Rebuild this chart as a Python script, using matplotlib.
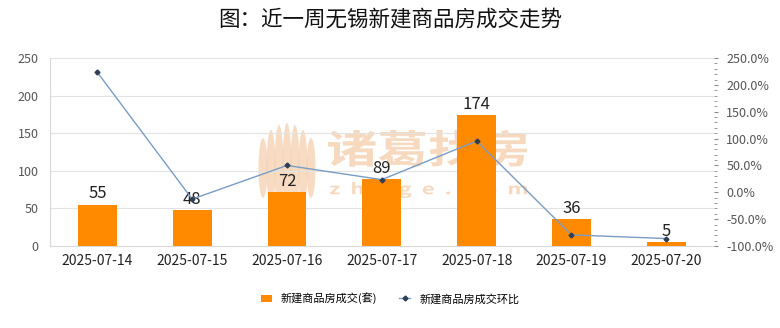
import numpy as np
import matplotlib.pyplot as plt
from matplotlib.patches import Ellipse, PathPatch
from matplotlib.textpath import TextPath
from matplotlib.font_manager import FontProperties
from matplotlib.transforms import Affine2D, IdentityTransform
from matplotlib.ticker import MultipleLocator, FuncFormatter

plt.rcParams['font.family'] = ['Noto Sans CJK SC', 'DejaVu Sans']

dates = ['2025-07-14', '2025-07-15', '2025-07-16', '2025-07-17',
         '2025-07-18', '2025-07-19', '2025-07-20']
deals = [55, 48, 72, 89, 174, 36, 5]
mom = [223.5, -12.7, 50.0, 23.6, 95.5, -79.3, -86.1]  # 环比, %

x = np.arange(len(dates))

fig = plt.figure(figsize=(7.8, 3.28), dpi=100)
ax = fig.add_axes([0.064, 0.25, 0.851, 0.573])
ax2 = ax.twinx()

bars = ax.bar(x, deals, width=0.41, color='#FF8A00', zorder=3,
              label='新建商品房成交(套)')
for xi, v in zip(x, deals):
    ax.text(xi, v + 3, str(v), ha='center', va='bottom', fontsize=12,
            color='#222222', zorder=5)

ax2.plot(x, mom, color='#7A9CC6', lw=1, marker='D', ms=2.5,
         mfc='#2E3E55', mec='#2E3E55', zorder=4, label='新建商品房成交环比')

ax.set_xlim(-0.5, len(dates) - 0.5)
ax.set_ylim(0, 250)
ax.yaxis.set_major_locator(MultipleLocator(50))
ax.grid(axis='y', color='#E3E3E3', lw=0.8, zorder=0)
ax.set_xticks(x)
ax.set_xticklabels(dates, fontsize=10, color='#222222')
ax.tick_params(axis='x', length=0, pad=6)
ax.tick_params(axis='y', length=0, labelsize=9, labelcolor='#555555', pad=8)

ax2.set_ylim(-100, 250)
ax2.yaxis.set_major_locator(MultipleLocator(50))
ax2.yaxis.set_minor_locator(MultipleLocator(10))
ax2.yaxis.set_major_formatter(FuncFormatter(lambda v, p: '%.1f%%' % v))
ax2.tick_params(axis='y', which='major', length=3, color='#888888',
                labelsize=9, labelcolor='#555555', pad=6)
ax2.tick_params(axis='y', which='minor', length=2, color='#888888')

for a in (ax, ax2):
    for s in a.spines.values():
        s.set_visible(False)
ax.spines['left'].set_visible(True)
ax.spines['left'].set_color('#D9D9D9')
ax.spines['bottom'].set_visible(True)
ax.spines['bottom'].set_color('#D9D9D9')

# watermark behind the bars, placed in pixel coordinates
wm = '#F2C59B'
fp = FontProperties(family='Noto Sans CJK SC', weight='bold')


def stamp(s, x0, x1, y0, y1):
    tp = TextPath((0, 0), s, size=50, prop=fp)
    ext = tp.get_extents()
    tr = (Affine2D().translate(-ext.x0, -ext.y0)
          .scale((x1 - x0) / ext.width, (y1 - y0) / ext.height)
          .translate(x0, y0))
    ax.add_patch(PathPatch(tr.transform_path(tp), color=wm, alpha=0.65, lw=0,
                           transform=IdentityTransform(), zorder=1))


stamp('诸葛找房', 328, 527, 161, 198)
stamp('z  h  u  g  e  .  c  o  m', 330, 527, 130, 146)
for dx, h in [(-24, 60), (-16, 76), (-8, 86), (0, 90), (8, 86), (16, 76), (24, 60)]:
    ax.add_patch(Ellipse((287 + dx, 160), 9, h, color=wm, alpha=0.6,
                         transform=IdentityTransform(), zorder=1, lw=0))

fig.suptitle('图：近一周无锡新建商品房成交走势', fontsize=15.5, y=0.975,
             color='#111111')

h1, l1 = ax.get_legend_handles_labels()
h2, l2 = ax2.get_legend_handles_labels()
fig.legend(h1 + h2, l1 + l2, loc='center', bbox_to_anchor=(0.5, 0.09),
           ncol=2, frameon=False, fontsize=8, handlelength=1.0,
           handleheight=0.7, columnspacing=2.0)

fig.savefig('out.png', dpi=100)
